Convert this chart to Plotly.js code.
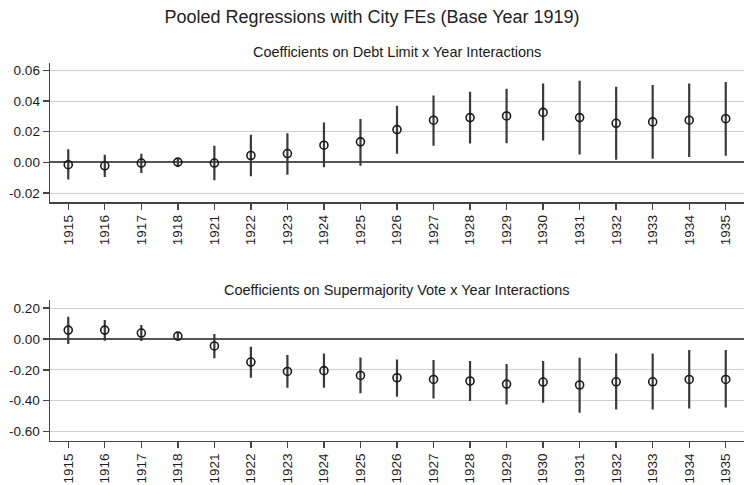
<!DOCTYPE html>
<html>
<head>
<meta charset="utf-8">
<script src="https://cdn.plot.ly/plotly-3.0.1.min.js"></script>
<style>html,body{margin:0;padding:0;background:#fff;}#chart{width:744px;height:485px;}</style>
</head>
<body>
<div id="chart"></div>
<script>
const years = ["1915","1916","1917","1918","1921","1922","1923","1924","1925","1926","1927","1928","1929","1930","1931","1932","1933","1934","1935"];

const debtCoef = [-0.0015,-0.0022,-0.0004,0.0002,-0.0004,0.0045,0.0058,0.0112,0.0134,0.0214,0.0275,0.0292,0.0303,0.0326,0.0292,0.0255,0.0264,0.0275,0.0285];
const debtLo   = [-0.0112,-0.0095,-0.0069,-0.0030,-0.0117,-0.0090,-0.0080,-0.0032,-0.0022,0.0056,0.0108,0.0123,0.0125,0.0143,0.0052,0.0017,0.0024,0.0035,0.0043];
const debtHi   = [0.0086,0.0050,0.0056,0.0028,0.0108,0.0180,0.0190,0.0260,0.0283,0.0370,0.0437,0.0460,0.0480,0.0515,0.0532,0.0493,0.0504,0.0515,0.0525];

const superCoef = [0.058,0.058,0.039,0.019,-0.045,-0.149,-0.210,-0.205,-0.236,-0.251,-0.262,-0.272,-0.292,-0.279,-0.298,-0.277,-0.277,-0.262,-0.262];
const superLo   = [-0.032,-0.011,-0.013,-0.002,-0.125,-0.251,-0.316,-0.316,-0.352,-0.374,-0.385,-0.402,-0.424,-0.413,-0.478,-0.456,-0.456,-0.450,-0.443];
const superHi   = [0.145,0.123,0.091,0.041,0.032,-0.050,-0.104,-0.093,-0.119,-0.132,-0.136,-0.143,-0.162,-0.143,-0.121,-0.093,-0.093,-0.071,-0.071];

const topTickVals = [-0.02,0,0.02,0.04,0.06];
const topTickText = ["-0.02","0.00","0.02","0.04","0.06"];
const botTickVals = [-0.6,-0.4,-0.2,0,0.2];
const botTickText = ["-0.60","-0.40","-0.20","0.00","0.20"];

const mainTitle = "Pooled Regressions with City FEs (Base Year 1919)";
const topTitle = "Coefficients on Debt Limit x Year Interactions";
const botTitle = "Coefficients on Supermajority Vote x Year Interactions";

function trace(coef, lo, hi, xa, ya) {
  return {
    type: 'scatter', mode: 'markers', x: years, y: coef, xaxis: xa, yaxis: ya,
    marker: {symbol: 'circle-open', size: 8, color: '#1a1a1a', line: {width: 1.6, color: '#1a1a1a'}},
    error_y: {type: 'data', symmetric: false,
      array: hi.map((h, i) => h - coef[i]),
      arrayminus: lo.map((l, i) => coef[i] - l),
      color: '#3a3a3a', thickness: 2.2, width: 0},
    showlegend: false, hoverinfo: 'x+y'
  };
}

const font = {family: 'Liberation Sans, Arial, sans-serif', color: '#1a1a1a'};
const axLine = '#444';
const xCommon = {type: 'category', range: [-0.5, 18.5], tickangle: -90, ticks: 'outside', ticklen: 6,
  tickwidth: 1.4, tickcolor: axLine, showline: true, linecolor: axLine, linewidth: 1.4, showgrid: false,
  zeroline: false, tickfont: {size: 13.5, color: '#1a1a1a'}, fixedrange: true};
const yCommon = {ticks: 'outside', ticklen: 6, tickwidth: 1.4, tickcolor: axLine, showline: true,
  linecolor: axLine, linewidth: 1.4, showgrid: true, gridcolor: '#cfcfcf', gridwidth: 1,
  zeroline: true, zerolinecolor: '#555', zerolinewidth: 2, tickmode: 'array',
  tickfont: {size: 13.5, color: '#1a1a1a'}, fixedrange: true};

const layout = {
  width: 744, height: 485,
  margin: {l: 50, r: 0, t: 0, b: 0},
  paper_bgcolor: '#fff', plot_bgcolor: '#fff',
  font: font,
  title: {text: mainTitle, x: 0.5, xref: 'container', y: 1 - 17/485, yref: 'container',
    xanchor: 'center', yanchor: 'middle', font: {size: 18, color: '#222'}},
  xaxis: Object.assign({}, xCommon, {anchor: 'y', domain: [0, 1]}),
  yaxis: Object.assign({}, yCommon, {anchor: 'x', domain: [1 - 202.3/485, 1 - 62.7/485],
    range: [-0.026, 0.065], tickvals: topTickVals, ticktext: topTickText}),
  xaxis2: Object.assign({}, xCommon, {anchor: 'y2', domain: [0, 1]}),
  yaxis2: Object.assign({}, yCommon, {anchor: 'x2', domain: [1 - 440.7/485, 1 - 300/485],
    range: [-0.659, 0.253], tickvals: botTickVals, ticktext: botTickText}),
  annotations: [
    {text: topTitle, xref: 'paper', yref: 'paper', x: 0.5, y: 1 - 51.7/485, xanchor: 'center',
     yanchor: 'middle', showarrow: false, font: {size: 14.5, color: '#1a1a1a'}},
    {text: botTitle, xref: 'paper', yref: 'paper', x: 0.5, y: 1 - 290/485, xanchor: 'center',
     yanchor: 'middle', showarrow: false, font: {size: 14.5, color: '#1a1a1a'}}
  ]
};

Plotly.newPlot('chart', [
  trace(debtCoef, debtLo, debtHi, 'x', 'y'),
  trace(superCoef, superLo, superHi, 'x2', 'y2')
], layout, {displayModeBar: false, staticPlot: true});
</script>
</body>
</html>
